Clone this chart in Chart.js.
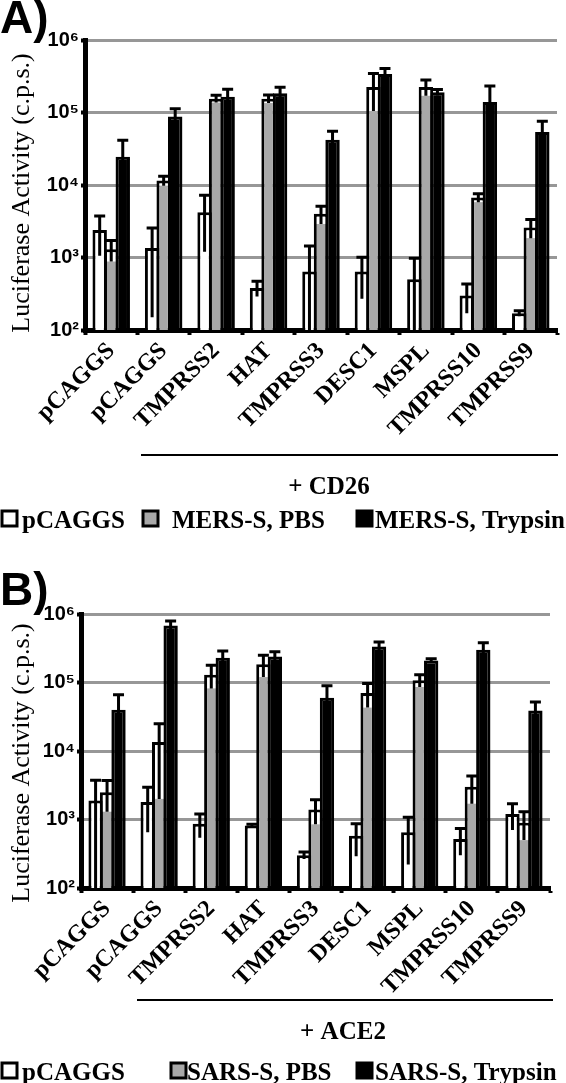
<!DOCTYPE html>
<html>
<head>
<meta charset="utf-8">
<script src="https://cdn.jsdelivr.net/npm/chart.js@4.4.1/dist/chart.umd.min.js"></script>
<style>
  body { margin: 0; background: #fff; }
  canvas { display: block; }
</style>
</head>
<body>
<canvas id="panel-a" width="566" height="545"></canvas>
<canvas id="panel-b" width="566" height="538"></canvas>
<script>
const categories = ['pCAGGS', 'pCAGGS', 'TMPRSS2', 'HAT', 'TMPRSS3', 'DESC1', 'MSPL', 'TMPRSS10', 'TMPRSS9'];
const yTicks = [100, 1000, 10000, 100000, 1000000];
const tickLabels = ['10²', '10³', '10⁴', '10⁵', '10⁶'];

// panel A - MERS-S, cells with CD26
const legendA = ['pCAGGS', 'MERS-S, PBS', 'MERS-S, Trypsin'];
const mersEmpty = [2400, 1350, 4200, 380, 640, 640, 500, 300, 170];
const mersEmptyErr = [1340, 1200, 3000, 90, 800, 370, 480, 130, 15];
const mersPbs = [1300, 11500, 155000, 155000, 4000, 225000, 225000, 6700, 2600];
const mersPbsErr = [420, 1700, 18000, 20000, 1100, 120000, 55000, 900, 750];
const mersTrypsin = [24500, 88000, 165000, 185000, 42000, 340000, 190000, 140000, 54000];
const mersTrypsinErr = [17000, 25000, 45000, 38000, 13000, 65000, 18000, 92000, 22000];

// panel B - SARS-S, cells with ACE2
const legendB = ['pCAGGS', 'SARS-S, PBS', 'SARS-S, Trypsin'];
const sarsEmpty = [1900, 1800, 870, 820, 300, 580, 650, 520, 1200];
const sarsEmptyErr = [1850, 1150, 330, 30, 35, 290, 430, 220, 500];
const sarsPbs = [2500, 13500, 130000, 185000, 1400, 70000, 108000, 3000, 900];
const sarsPbsErr = [1200, 11500, 48000, 65000, 550, 27000, 22000, 1300, 400];
const sarsTrypsin = [40000, 680000, 230000, 240000, 60000, 335000, 210000, 300000, 39000];
const sarsTrypsinErr = [26000, 110000, 58000, 40000, 30000, 55000, 12000, 80000, 13000];

const barColors = ['#ffffff', '#a8a8a8', '#000000'];

document.addEventListener('DOMContentLoaded', () => {

    // symmetric error bars, upper part capped; the part inside light bars shows up
    const errorBars = {
        id: 'errorBars',
        afterDatasetsDraw(chart) {
            const ctx = chart.ctx;
            const yScale = chart.scales.y;
            chart.data.datasets.forEach((ds, di) => {
                const meta = chart.getDatasetMeta(di);
                meta.data.forEach((bar, i) => {
                    const v = ds.data[i];
                    const e = ds.errors[i];
                    const top = yScale.getPixelForValue(v + e);
                    const low = Math.min(yScale.getPixelForValue(Math.max(v - e, yScale.min)), yScale.bottom);
                    ctx.save();
                    if (ds.hollowTop) {
                        const half = bar.width / 2 - 3;
                        ctx.fillStyle = '#fff';
                        ctx.fillRect(bar.x - half, bar.y + 3, half * 2, Math.max(low - bar.y - 3, 0));
                    }
                    ctx.strokeStyle = '#000';
                    ctx.lineWidth = 3;
                    ctx.beginPath();
                    ctx.moveTo(bar.x, low);
                    ctx.lineTo(bar.x, top);
                    ctx.moveTo(bar.x - 5.5, top);
                    ctx.lineTo(bar.x + 5.5, top);
                    ctx.stroke();
                    ctx.restore();
                });
            });
        }
    };

    // panel letter, axis title, receptor line and the legend row
    const panelText = {
        id: 'panelText',
        afterDraw(chart, args, opts) {
            const ctx = chart.ctx;
            ctx.save();
            ctx.fillStyle = '#000';
            ctx.textBaseline = 'alphabetic';

            ctx.font = 'bold 46px "Liberation Sans"';
            ctx.textAlign = 'left';
            ctx.fillText(opts.letter, 0, opts.letterY);

            ctx.save();
            ctx.translate(opts.titleX, opts.titleY);
            ctx.rotate(-Math.PI / 2);
            ctx.font = '26px "Liberation Serif"';
            ctx.textAlign = 'center';
            ctx.textBaseline = 'middle';
            ctx.fillText('Luciferase Activity (c.p.s.)', 0, 0);
            ctx.restore();

            ctx.strokeStyle = '#000';
            ctx.lineWidth = 2;
            ctx.beginPath();
            ctx.moveTo(opts.lineX0, opts.lineY);
            ctx.lineTo(opts.lineX1, opts.lineY);
            ctx.stroke();

            ctx.font = 'bold 25px "Liberation Serif"';
            ctx.textAlign = 'center';
            ctx.fillText(opts.receptor, opts.receptorX, opts.receptorY);

            ctx.textAlign = 'left';
            chart.data.datasets.forEach((ds, k) => {
                const bx = opts.boxX[k];
                const by = opts.legendY - 17;
                ctx.fillStyle = ds.backgroundColor;
                ctx.fillRect(bx, by, 15, 15);
                ctx.lineWidth = 3;
                ctx.strokeRect(bx, by, 15, 15);
                ctx.fillStyle = '#000';
                ctx.fillText(ds.label, opts.textX[k], opts.legendY);
            });
            ctx.restore();
        }
    };

    const buildChart = (canvasId, panel) => new Chart(document.getElementById(canvasId), {
        type: 'bar',
        data: {
            labels: categories,
            datasets: panel.series.map((s, k) => ({
                label: panel.legend[k],
                data: s[0],
                errors: s[1],
                hollowTop: k === 1,
                backgroundColor: barColors[k],
                borderColor: '#000',
                borderWidth: 3,
                // slight overlap so neighbouring bars share one dark edge
                categoryPercentage: 0.66,
                barPercentage: 1.25
            }))
        },
        plugins: [errorBars, panelText],
        options: {
            responsive: false,
            animation: false,
            layout: { padding: { top: panel.top, right: panel.right, left: 0, bottom: 0 } },
            plugins: {
                legend: { display: false },
                tooltip: { enabled: false },
                panelText: panel.text
            },
            scales: {
                x: {
                    grid: { drawOnChartArea: false, drawTicks: true, tickLength: 5, tickColor: '#000', tickWidth: 4 },
                    border: { color: '#000', width: 5 },
                    ticks: {
                        color: '#000',
                        font: { family: 'Liberation Serif', weight: 'bold', size: 24 },
                        minRotation: 45,
                        maxRotation: 45,
                        autoSkip: false,
                        padding: 2
                    },
                    afterFit: (scale) => { scale.height = panel.xHeight; }
                },
                y: {
                    type: 'logarithmic',
                    min: 100,
                    max: 1000000,
                    afterBuildTicks: (scale) => { scale.ticks = yTicks.map(v => ({ value: v })); },
                    afterFit: (scale) => { scale.width = panel.yWidth; },
                    grid: {
                        color: (c) => (c.tick && c.tick.value === 100 ? 'rgba(0,0,0,0)' : '#979797'),
                        lineWidth: 3,
                        tickLength: 4,
                        tickColor: '#000',
                        tickWidth: 4
                    },
                    border: { color: '#000', width: 5 },
                    ticks: {
                        color: '#000',
                        font: { family: 'Liberation Sans', weight: 'bold', size: 20 },
                        padding: 2,
                        callback: (v) => tickLabels[yTicks.indexOf(v)]
                    }
                }
            }
        }
    });

    buildChart('panel-a', {
        legend: legendA,
        series: [[mersEmpty, mersEmptyErr], [mersPbs, mersPbsErr], [mersTrypsin, mersTrypsinErr]],
        top: 40, right: 9, yWidth: 85, xHeight: 215,
        text: {
            letter: 'A)', letterY: 33,
            titleX: 22, titleY: 193,
            lineX0: 141, lineX1: 558, lineY: 455,
            receptor: '+ CD26', receptorX: 329, receptorY: 494,
            legendY: 528, boxX: [2, 143, 357], textX: [22, 172, 375]
        }
    });

    buildChart('panel-b', {
        legend: legendB,
        series: [[sarsEmpty, sarsEmptyErr], [sarsPbs, sarsPbsErr], [sarsTrypsin, sarsTrypsinErr]],
        top: 69, right: 16, yWidth: 81, xHeight: 195,
        text: {
            letter: 'B)', letterY: 60,
            titleX: 22, titleY: 218,
            lineX0: 137, lineX1: 553, lineY: 455,
            receptor: '+ ACE2', receptorX: 343, receptorY: 494,
            legendY: 535, boxX: [2, 171, 357], textX: [22, 187, 375]
        }
    });
});
</script>
</body>
</html>
